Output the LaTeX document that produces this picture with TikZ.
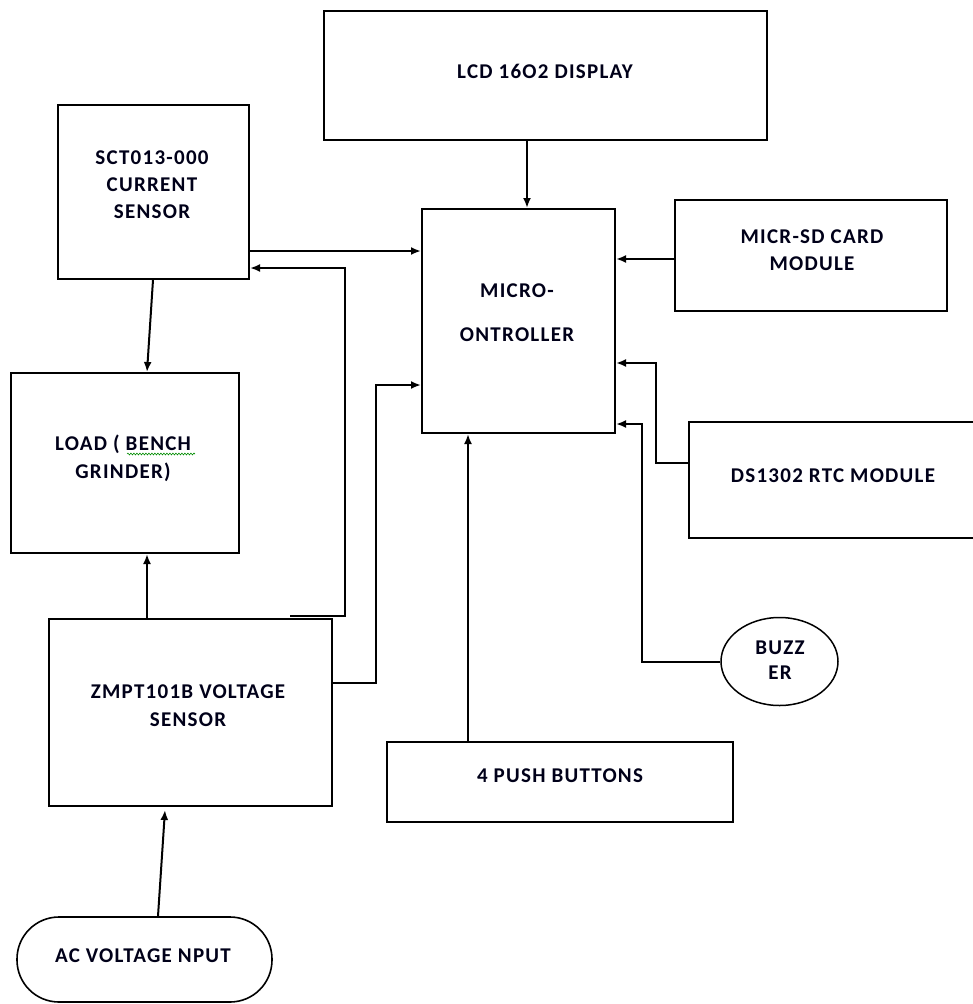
\documentclass[tikz,border=0pt]{standalone}
\usepackage{fontspec}
\newfontfamily\lblfont[LetterSpace=6]{Carlito}
\usetikzlibrary{arrows.meta,shapes.geometric,decorations.pathmorphing}
\begin{document}
\begin{tikzpicture}[x=1pt,y=-1pt,
  box/.style={draw,line width=2pt,inner sep=0pt,rectangle},
  lbl/.style={anchor=base,inner sep=0pt,font=\lblfont\bfseries\fontsize{21}{25}\selectfont,text=black!90!blue},
  arr/.style={line width=2pt,-{Latex[length=10pt,width=8pt]}},
  wire/.style={line width=2pt}]
\useasboundingbox (0,0) rectangle (973,1004);
\fill[white] (0,0) rectangle (973,1004);
\clip (0,0) rectangle (973,1004);

% boxes
\node[box,minimum width=443pt,minimum height=129pt] (lcd) at (545.5,75.5) {};
\node[box,minimum width=191pt,minimum height=174pt] (sct) at (153.5,192) {};
\node[box,minimum width=193pt,minimum height=224pt] (mcu) at (518.5,321) {};
\node[box,minimum width=272pt,minimum height=111pt] (sd) at (811,255.5) {};
\node[box,minimum width=228pt,minimum height=180pt] (load) at (125,463) {};
\node[box,minimum width=296pt,minimum height=116pt] (ds) at (837,480) {};
\node[draw,ellipse,line width=1.5pt,inner sep=0pt,minimum width=117pt,minimum height=88pt] (buzz) at (779.5,661.5) {};
\node[box,minimum width=283pt,minimum height=187pt] (zmpt) at (190.5,712.5) {};
\node[box,minimum width=346pt,minimum height=80pt] (push) at (560,782) {};
\node[box,line width=1.6pt,rounded corners=42pt,minimum width=255pt,minimum height=85pt] (ac) at (144.5,959.5) {};

% labels
\node[lbl] (lcdT) at (545,78.8) {LCD 16O2 DISPLAY};
\node[lbl] (sctA) at (152,164.8) {SCT013-000};
\node[lbl] (sctB) at (152,191.8) {CURRENT};
\node[lbl] (sctC) at (152,218.8) {SENSOR};
\node[lbl] (mcuA) at (517,297) {MICRO-};
\node[lbl] (mcuB) at (517,341) {ONTROLLER};
\node[lbl] (sdA) at (812,243) {MICR-SD CARD};
\node[lbl] (sdB) at (812,270) {MODULE};
\node[lbl] (loadA) at (123,450) {LOAD ( BENCH};
\node[lbl] (loadB) at (123,478) {GRINDER)};
\node[lbl] (dsT) at (833,482) {DS1302 RTC MODULE};
\node[lbl] (buzA) at (780,654) {BUZZ};
\node[lbl] (buzB) at (780,679) {ER};
\node[lbl] (zmA) at (188,698) {ZMPT101B VOLTAGE};
\node[lbl] (zmB) at (188,726) {SENSOR};
\node[lbl] (pushT) at (560,782) {4 PUSH BUTTONS};
\node[lbl] (acT) at (143,962) {AC VOLTAGE NPUT};

% spell-check squiggle
\draw[green!55!black,line width=0.6pt,decorate,decoration={snake,amplitude=0.9pt,segment length=3pt}] (127,454) -- (195,454);

% connectors
\draw[arr] (527,0 |- lcd.south) -- (527,0 |- mcu.north);
\draw[arr] (sct.east |- 0,251) -- (mcu.west |- 0,251);
\draw[arr] (153,0 |- sct.south) -- (147,0 |- load.north);
\draw[arr] (147,0 |- zmpt.north) -- (147,0 |- load.south);
\draw[arr] ([yshift=2pt]290,0 |- zmpt.north) -| (345,268) -- (sct.east |- 0,268);
\draw[arr] (zmpt.east |- 0,683) -| (376,385) -- (mcu.west |- 0,385);
\draw[arr] (158,0 |- ac.north) -- ([yshift=-3pt]165,0 |- zmpt.south);
\draw[arr] (sd.west |- 0,259) -- (mcu.east |- 0,259);
\draw[arr] (ds.west |- 0,463) -| (656,363) -- (mcu.east |- 0,363);
\draw[arr] (buzz.west) -| (642,424) -- (mcu.east |- 0,424);
\draw[arr] (468,0 |- push.north) -- (468,0 |- mcu.south);
\end{tikzpicture}
\end{document}
